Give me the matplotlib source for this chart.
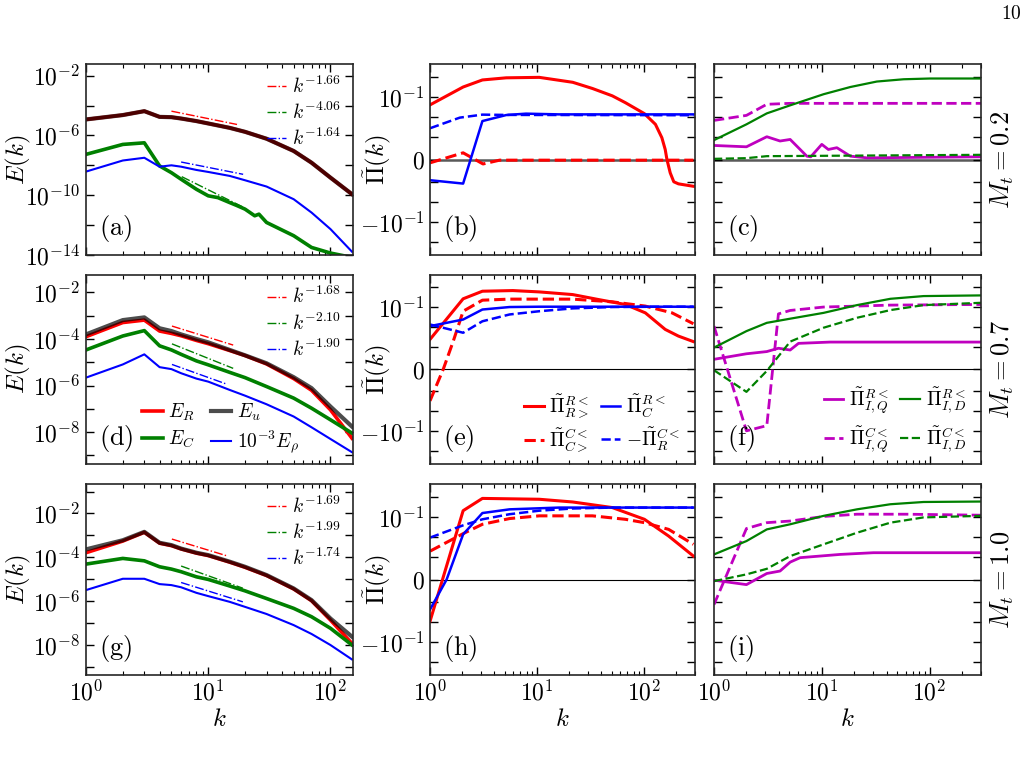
import numpy as np
import matplotlib
matplotlib.use("Agg")
import matplotlib.pyplot as plt
from matplotlib.ticker import FixedLocator, FixedFormatter, LogLocator, NullLocator, NullFormatter

plt.rcParams['mathtext.fontset'] = 'cm'
plt.rcParams['font.family'] = ['DejaVu Serif']

# ---------------- data: spectra (left column) ----------------
kE = [1, 2, 3, 4, 5, 6, 8, 10, 15, 20, 30, 50, 70, 100, 150]

# Mt = 0.2
ER_1 = [1.17e-5, 2.3e-5, 4.2e-5, 1.74e-5, 1.66e-5, 1.35e-5, 9.1e-6, 6.3e-6, 3.2e-6, 1.74e-6, 6.0e-7, 9.1e-8, 1.5e-8, 1.5e-9, 1.17e-10]
Eu_1 = [1.17e-5, 2.3e-5, 4.2e-5, 1.74e-5, 1.66e-5, 1.35e-5, 9.1e-6, 6.3e-6, 3.2e-6, 1.74e-6, 6.0e-7, 9.1e-8, 1.5e-8, 1.5e-9, 1.17e-10]
kC_1 = [1, 2, 3, 4, 5, 6, 8, 10, 12, 15, 17, 20, 24, 26, 30, 50, 70, 100, 150]
EC_1 = [5.4e-8, 2.5e-7, 3.2e-7, 9.1e-9, 3.2e-9, 1.17e-9, 2.5e-10, 9.1e-11, 6.9e-11, 3.2e-11, 2.1e-11, 1.17e-11, 4.2e-12, 5.4e-12, 1.5e-12, 1.95e-13, 3.2e-14, 1.35e-14, 6.9e-15]
Erho_1 = [3.8e-9, 2.1e-8, 3.2e-8, 8.1e-9, 1.0e-8, 8.1e-9, 4.9e-9, 3.6e-9, 1.95e-9, 1.0e-9, 3.8e-10, 5.4e-11, 6.9e-12, 5.4e-13, 1.66e-14]

# Mt = 0.7
ER_2 = [1.26e-4, 5.1e-4, 6.5e-4, 2.2e-4, 1.74e-4, 1.38e-4, 8.7e-5, 6.3e-5, 3.2e-5, 1.95e-5, 8.5e-6, 2.0e-6, 6.3e-7, 9.1e-8, 5.5e-9]
Eu_2 = [1.58e-4, 6.5e-4, 8.5e-4, 2.9e-4, 2.2e-4, 1.58e-4, 1.0e-4, 7.2e-5, 3.4e-5, 2.0e-5, 9.1e-6, 2.3e-6, 7.8e-7, 1.26e-7, 1.74e-8]
EC_2 = [3.4e-5, 1.35e-4, 2.3e-4, 5.1e-5, 3.4e-5, 2.2e-5, 1.15e-5, 7.8e-6, 3.7e-6, 2.2e-6, 9.1e-7, 2.9e-7, 1.07e-7, 3.4e-8, 9.1e-9]
Erho_2 = [2.2e-6, 8.1e-6, 2.2e-5, 6.2e-6, 5.1e-6, 3.4e-6, 2.0e-6, 1.48e-6, 6.5e-7, 3.7e-7, 1.58e-7, 4.7e-8, 1.62e-8, 5.1e-9, 1.38e-9]

# Mt = 1.0
ER_3 = [1.62e-4, 5.5e-4, 1.38e-3, 4.4e-4, 3.4e-4, 2.4e-4, 1.55e-4, 1.2e-4, 6.0e-5, 3.5e-5, 1.48e-5, 3.6e-6, 1.05e-6, 1.38e-7, 1.17e-8]
Eu_3 = [2.3e-4, 6.0e-4, 1.45e-3, 4.6e-4, 3.6e-4, 2.5e-4, 1.62e-4, 1.26e-4, 6.3e-5, 3.7e-5, 1.55e-5, 3.8e-6, 1.12e-6, 1.62e-7, 2.4e-8]
EC_3 = [4.9e-5, 8.9e-5, 6.9e-5, 3.7e-5, 2.9e-5, 2.2e-5, 1.29e-5, 9.8e-6, 4.9e-6, 2.95e-6, 1.32e-6, 4.7e-7, 1.95e-7, 5.8e-8, 1.0e-8]
Erho_3 = [3.2e-6, 1.05e-5, 1.05e-5, 6.0e-6, 5.4e-6, 4.3e-6, 2.4e-6, 1.7e-6, 9.3e-7, 5.5e-7, 2.6e-7, 8.1e-8, 3.2e-8, 1.0e-8, 2.2e-9]

# power-law fits: (k_start, k_end, E_start, E_end), labels
fit_exps = [["-1.66", "-4.06", "-1.64"], ["-1.68", "-2.10", "-1.90"], ["-1.69", "-1.99", "-1.74"]]
fits_1 = [(5.0, 17.2, 4.2e-5, 5.4e-6), (6.07, 19.3, 1.74e-9, 1.6e-11), (6.0, 19.3, 1.66e-8, 2.5e-9)]
fits_2 = [(5.05, 16.0, 3.6e-4, 5.5e-5), (5.05, 16.0, 6.2e-5, 5.5e-6), (5.05, 14.2, 8.1e-6, 1.15e-6)]
fits_3 = [(5.04, 14.2, 6.8e-4, 1.17e-4), (6.0, 19.2, 4.0e-5, 3.9e-6), (6.0, 19.2, 7.1e-6, 9.3e-7)]

# ---------------- data: fluxes (middle column) ----------------
# Mt = 0.2
b_RR_k = [1, 2.04, 3.09, 5.16, 10.5, 21.6, 33, 50.6, 67, 101, 128, 147, 158, 164, 176, 190, 210, 290]
b_RR_v = [0.041, 0.32, 0.72, 0.92, 0.97, 0.55, 0.27, 0.116, 0.053, 0.015, 0.0044, 9.8e-4, 4.5e-4, 0.0, -6e-4, -1e-3, -1.27e-3, -1.68e-3]
b_CC_k = [1, 2.04, 3.13, 4.47, 290]
b_CC_v = [-1.5e-4, 3e-4, -2e-4, -3e-5, -3e-5]
b_RC_k = [1, 2.04, 3.09, 5.16, 7.9, 16, 290]
b_RC_v = [-9.3e-4, -1.23e-3, 0.0064, 0.0128, 0.015, 0.0138, 0.0138]
b_CR_k = [1, 1.9, 3.09, 4.8, 290]
b_CR_v = [0.0028, 0.0095, 0.0134, 0.013, 0.0125]
# Mt = 0.7
e_RR_k = [1, 2.04, 3.09, 5.95, 10.5, 21.6, 38, 67, 103, 158, 210, 290]
e_RR_v = [0.00245, 0.27, 0.65, 0.7, 0.6, 0.44, 0.245, 0.14, 0.053, 0.0078, 0.0036, 0.0019]
e_CC_k = [1, 1.33, 1.65, 2.04, 3.09, 5.54, 21.6, 50.6, 103, 183, 290]
e_CC_v = [-0.003, 0.0, 0.002, 0.064, 0.23, 0.26, 0.26, 0.19, 0.116, 0.053, 0.015]
e_RC_k = [1, 2.04, 3.09, 5.54, 10.5, 290]
e_RC_v = [0.0114, 0.0245, 0.078, 0.104, 0.108, 0.108]
e_CR_k = [1, 2.04, 3.09, 5.54, 10.5, 21.6, 50.6, 137, 290]
e_CR_v = [0.0138, 0.0053, 0.02, 0.044, 0.064, 0.089, 0.104, 0.108, 0.108]
# Mt = 1.0
h_RR_k = [1, 2.04, 3.09, 10.5, 21.6, 50.6, 101, 170, 290]
h_RR_v = [-0.0095, 0.21, 0.86, 0.78, 0.57, 0.30, 0.078, 0.0114, 1.14e-3]
h_CC_k = [1, 2.04, 3.09, 5.54, 10.5, 33, 67, 101, 170, 290]
h_CC_v = [0.002, 0.015, 0.044, 0.085, 0.116, 0.116, 0.078, 0.053, 0.0245, 0.0044]
h_RC_k = [1, 1.43, 2.04, 3.09, 5.54, 16.1, 290]
h_RC_v = [-0.00245, 0.0, 0.0138, 0.16, 0.245, 0.30, 0.30]
h_CR_k = [1, 2.04, 3.09, 5.54, 10.5, 21.6, 50.6, 290]
h_CR_v = [0.0095, 0.039, 0.078, 0.14, 0.21, 0.27, 0.30, 0.30]

# ---------------- data: fluxes (right column) ----------------
c_RQ_k = [1, 2, 3.09, 4.1, 5.09, 7.26, 7.9, 10, 11.5, 13.8, 18.4, 26.2, 300]
c_RQ_v = [6.3e-4, 5.7e-4, 1.06e-3, 8.3e-4, 9e-4, 1.5e-4, 1.2e-4, 6.8e-4, 4.5e-4, 5.3e-4, 1.5e-4, 7.5e-5, 1.2e-4]
c_RD_k = [1, 2, 3.09, 5.09, 10.4, 18.4, 32.4, 57.5, 101, 300]
c_RD_v = [8.7e-4, 0.0044, 0.0155, 0.039, 0.14, 0.32, 0.6, 0.78, 0.85, 0.85]
c_CQ_k = [1, 2, 3.09, 5.09, 300]
c_CQ_v = [0.0069, 0.0123, 0.044, 0.049, 0.049]
c_CD_k = [1, 2, 3.09, 300]
c_CD_v = [3e-5, 6e-5, 1.5e-4, 2.1e-4]

f_RQ_k = [1, 2, 3.09, 3.96, 5.09, 6.08, 11.9, 300]
f_RQ_v = [4.5e-4, 7e-4, 8e-4, 9.5e-4, 8.7e-4, 1.55e-3, 1.8e-3, 1.8e-3]
f_RD_k = [1, 2, 3.09, 5.09, 10.4, 21.2, 43.3, 88, 300]
f_RD_v = [9.8e-4, 0.0064, 0.0167, 0.027, 0.053, 0.13, 0.27, 0.37, 0.4]
f_CQ_k = [1, 2, 3.09, 3.96, 5.09, 10.4, 43.3, 300]
f_CQ_v = [0.0114, -0.097, -0.053, 0.047, 0.07, 0.104, 0.13, 0.14]
f_CD_k = [1, 2, 3.09, 5.09, 10.4, 21.2, 43.3, 88, 300]
f_CD_v = [-4.5e-5, -1.06e-3, -7.5e-5, 0.0019, 0.0095, 0.03, 0.073, 0.13, 0.17]

i_RQ_k = [1, 2, 3.09, 4.1, 5.09, 6.3, 14.8, 30.1, 300]
i_RQ_v = [-3e-5, -2.3e-4, 2.7e-4, 3.8e-4, 7.8e-4, 9.8e-4, 1.38e-3, 1.68e-3, 1.68e-3]
i_RD_k = [1, 2, 3.09, 5.09, 10.4, 21.2, 43.3, 88, 300]
i_RD_v = [1.38e-3, 0.0064, 0.0245, 0.044, 0.116, 0.245, 0.44, 0.57, 0.6]
i_CQ_k = [1, 2, 3.09, 5.09, 10.4, 21.2, 61.8, 300]
i_CQ_v = [-1.38e-3, 0.027, 0.053, 0.064, 0.108, 0.14, 0.14, 0.125]
i_CD_k = [1, 2, 3.09, 5.09, 10.4, 21.2, 43.3, 88, 300]
i_CD_v = [-7.5e-5, 2.3e-4, 4.8e-4, 1.14e-3, 0.0044, 0.0167, 0.053, 0.097, 0.116]

mach_labels = [r'$M_t=0.2$', r'$M_t=0.7$', r'$M_t=1.0$']
panel_letters = ['a', 'b', 'c', 'd', 'e', 'f', 'g', 'h', 'i']

# ---------------- figure ----------------
W, H = 1027, 757
fig = plt.figure(figsize=(W / 100, H / 100), dpi=100)

col_x = [(86, 352.7), (430, 695), (714, 981)]
row_y = [(64, 255), (274.5, 464), (484, 675)]

def make_ax(r, c):
    x0, x1 = col_x[c]
    y0, y1 = row_y[r]
    return fig.add_axes([x0 / W, 1 - y1 / H, (x1 - x0) / W, (y1 - y0) / H])

TICK_FS = 17
LAB_FS = 18
LEG_FS = 14

def style(ax):
    ax.tick_params(which='both', direction='in', top=True, right=True, labelsize=TICK_FS, pad=4)
    ax.tick_params(which='major', length=6, width=1.0)
    ax.tick_params(which='minor', length=3, width=0.8)
    for s in ax.spines.values():
        s.set_linewidth(1.2)
        s.set_color('0.15')

axes = [[make_ax(r, c) for c in range(3)] for r in range(3)]

spectra = [(ER_1, Eu_1, EC_1, Erho_1, kC_1, fits_1),
           (ER_2, Eu_2, EC_2, Erho_2, kE, fits_2),
           (ER_3, Eu_3, EC_3, Erho_3, kE, fits_3)]
ylims_E = [(1e-14, 6e-2), (4.3e-10, 5.9e-2), (4.3e-10, 0.22)]

for r in range(3):
    ax = axes[r][0]
    ER, Eu, EC, Erho, kC, fits = spectra[r]
    lR, = ax.plot(kE, ER, color='red', lw=2.6, label=r'$E_R$')
    lC, = ax.plot(kC, EC, color='green', lw=2.6, label=r'$E_C$')
    lr, = ax.plot(kE, Erho, color='blue', lw=1.5, label=r'$10^{-3}E_\rho$')
    lu, = ax.plot(kE, Eu, color='black', alpha=0.7, lw=3.0, label=r'$E_u$')
    fl = []
    for (k0, k1, e0, e1), col, ex in zip(fits, ['red', 'green', 'blue'], fit_exps[r]):
        h, = ax.plot([k0, k1], [e0, e1], color=col, lw=1.0, ls='-.', label=r'$k^{%s}$' % ex)
        fl.append(h)
    ax.set_xscale('log')
    ax.set_yscale('log')
    ax.set_xlim(1, 152)
    ax.set_ylim(*ylims_E[r])
    style(ax)
    if r == 0:
        ax.yaxis.set_major_locator(FixedLocator([10.0 ** p for p in range(-14, -1, 2)]))
        ax.yaxis.set_major_formatter(FixedFormatter(
            [r'$10^{%d}$' % p if p % 4 == 2 or p % 4 == -2 else '' for p in range(-14, -1, 2)]))
    else:
        ax.yaxis.set_major_locator(FixedLocator([10.0 ** p for p in range(-10, 0)]))
        ax.yaxis.set_major_formatter(FixedFormatter(
            [r'$10^{%d}$' % p if p % 2 == 0 else '' for p in range(-10, 0)]))
    ax.yaxis.set_minor_locator(NullLocator())
    ax.set_ylabel(r'$E(k)$', fontsize=LAB_FS)
    ax.yaxis.set_label_coords(-0.2, 0.5)
    leg = ax.legend(handles=fl, loc='upper right', frameon=False, fontsize=LEG_FS,
                    handlelength=1.0, handletextpad=0.3, labelspacing=0.25,
                    borderaxespad=0.2)
    if r == 1:
        ax.add_artist(leg)
        ax.legend(handles=[lR, lC, lu, lr], ncol=2, loc='lower left',
                  bbox_to_anchor=(0.145, -0.05), frameon=False, fontsize=LEG_FS,
                  handlelength=1.05, handletextpad=0.3, columnspacing=0.8,
                  labelspacing=0.3)

mid_data = [
    (b_RR_k, b_RR_v, b_CC_k, b_CC_v, b_RC_k, b_RC_v, b_CR_k, b_CR_v),
    (e_RR_k, e_RR_v, e_CC_k, e_CC_v, e_RC_k, e_RC_v, e_CR_k, e_CR_v),
    (h_RR_k, h_RR_v, h_CC_k, h_CC_v, h_RC_k, h_RC_v, h_CR_k, h_CR_v),
]
right_data = [
    (c_RQ_k, c_RQ_v, c_RD_k, c_RD_v, c_CQ_k, c_CQ_v, c_CD_k, c_CD_v),
    (f_RQ_k, f_RQ_v, f_RD_k, f_RD_v, f_CQ_k, f_CQ_v, f_CD_k, f_CD_v),
    (i_RQ_k, i_RQ_v, i_RD_k, i_RD_v, i_CQ_k, i_CQ_v, i_CD_k, i_CD_v),
]

sym_ticks = [-1, -0.1, -0.01, -0.001, 0, 0.001, 0.01, 0.1, 1]
sym_labels = ['', r'$-10^{-1}$', '', '', r'$0$', '', '', r'$10^{-1}$', '']

def sym_axis(ax, r, show_labels):
    ax.set_xscale('log')
    ax.set_yscale('symlog', linthresh=1e-3, linscale=1.0)
    ax.set_xlim(1, 300)
    ax.set_ylim(-4.5, 4.5)
    style(ax)
    ax.yaxis.set_major_locator(FixedLocator(sym_ticks))
    if show_labels:
        ax.yaxis.set_major_formatter(FixedFormatter(sym_labels))
    else:
        ax.yaxis.set_major_formatter(NullFormatter())
    ax.yaxis.set_minor_locator(NullLocator())
    if r == 0:
        ax.axhline(0, color='0.35', lw=1.8, zorder=1)
    else:
        ax.axhline(0, color='black', lw=0.8, zorder=1)

for r in range(3):
    ax = axes[r][1]
    kRR, vRR, kCC, vCC, kRC, vRC, kCR, vCR = mid_data[r]
    sym_axis(ax, r, True)
    h1, = ax.plot(kRR, vRR, color='red', lw=2.2, label=r'$\tilde{\Pi}^{R<}_{R>}$')
    h2, = ax.plot(kCC, vCC, color='red', lw=2.2, ls='--', label=r'$\tilde{\Pi}^{C<}_{C>}$')
    h3, = ax.plot(kRC, vRC, color='blue', lw=1.8, label=r'$\tilde{\Pi}^{R<}_{C}$')
    h4, = ax.plot(kCR, vCR, color='blue', lw=1.8, ls='--', label=r'$-\tilde{\Pi}^{C<}_{R}$')
    ax.set_ylabel(r'$\tilde{\Pi}(k)$', fontsize=LAB_FS)
    ax.yaxis.set_label_coords(-0.14, 0.5)
    if r == 1:
        ax.legend(handles=[h1, h2, h3, h4], ncol=2, loc='lower right',
                  bbox_to_anchor=(1.01, -0.045), frameon=False, fontsize=LEG_FS,
                  handlelength=1.0, handletextpad=0.3, columnspacing=0.6,
                  labelspacing=0.3)

for r in range(3):
    ax = axes[r][2]
    kRQ, vRQ, kRD, vRD, kCQ, vCQ, kCD, vCD = right_data[r]
    sym_axis(ax, r, False)
    g1, = ax.plot(kRQ, vRQ, color='m', lw=2.0, label=r'$\tilde{\Pi}^{R<}_{I,Q}$')
    g2, = ax.plot(kCQ, vCQ, color='m', lw=2.0, ls='--', label=r'$\tilde{\Pi}^{C<}_{I,Q}$')
    g3, = ax.plot(kRD, vRD, color='green', lw=1.6, label=r'$\tilde{\Pi}^{R<}_{I,D}$')
    g4, = ax.plot(kCD, vCD, color='green', lw=1.6, ls='--', label=r'$\tilde{\Pi}^{C<}_{I,D}$')
    ax.text(1.08, 0.5, mach_labels[r], transform=ax.transAxes, rotation=90,
            ha='center', va='center', fontsize=19)
    if r == 1:
        ax.legend(handles=[g1, g2, g3, g4], ncol=2, loc='lower right',
                  bbox_to_anchor=(1.01, -0.045), frameon=False, fontsize=LEG_FS,
                  handlelength=1.0, handletextpad=0.3, columnspacing=0.6,
                  labelspacing=0.45)

for r in range(3):
    for c in range(3):
        ax = axes[r][c]
        ax.xaxis.set_minor_locator(LogLocator(base=10, subs=np.arange(2, 10), numticks=20))
        ax.set_xticks([1, 10, 100])
        if r == 2:
            ax.set_xticklabels([r'$10^{0}$', r'$10^{1}$', r'$10^{2}$'])
            ax.set_xlabel(r'$k$', fontsize=LAB_FS, labelpad=2)
        else:
            ax.set_xticklabels(['', '', ''])
        ax.xaxis.set_minor_formatter(NullFormatter())
        ax.text(0.05, 0.055, r'$\mathrm{(%s)}$' % panel_letters[3 * r + c],
                transform=ax.transAxes, ha='left', va='bottom', fontsize=19)

fig.text(1011 / W, 1 - 14 / H, r'$\mathrm{10}$', ha='center', va='center', fontsize=14)

fig.savefig('out.png', dpi=100)
